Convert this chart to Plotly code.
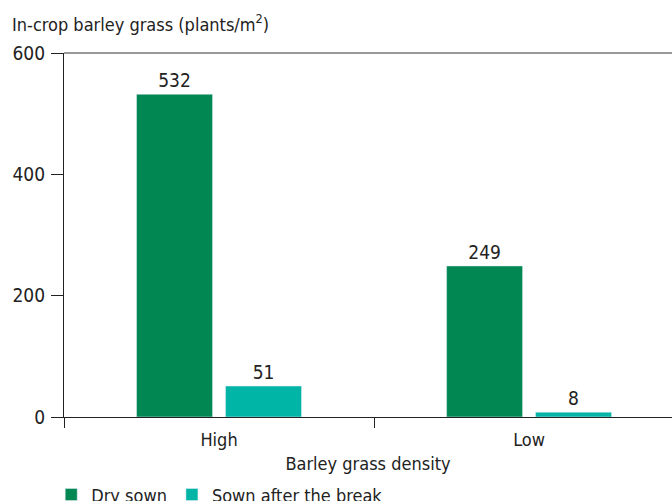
import plotly.graph_objects as go

categories = ["High", "Low"]
dry_sown = [532, 249]
sown_after_break = [51, 8]
y_ticks = [0, 200, 400, 600]

FONT = "DejaVu Sans Condensed, Liberation Sans Narrow, sans-serif"
DARK = "#008752"
TEAL = "#00B5A6"
TXT = "#222222"

fig = go.Figure()
fig.add_trace(go.Bar(
    x=categories, y=dry_sown, name="Dry sown", marker_color=DARK,
    text=dry_sown, textposition="outside", cliponaxis=False,
    textfont=dict(size=19, color=TXT),
))
fig.add_trace(go.Bar(
    x=categories, y=sown_after_break, name="Sown after the break", marker_color=TEAL,
    text=sown_after_break, textposition="outside", cliponaxis=False,
    textfont=dict(size=19, color=TXT),
))

fig.update_layout(
    width=672, height=501,
    margin=dict(l=64, r=0, t=53, b=84, autoexpand=False),
    paper_bgcolor="white", plot_bgcolor="white",
    font=dict(family=FONT, size=18, color=TXT),
    barmode="group", bargap=0.426, bargroupgap=0.146,
    showlegend=True,
    legend=dict(orientation="h", x=-0.021, xanchor="left", y=-0.163, yanchor="top",
                font=dict(size=18), traceorder="normal",
                bgcolor="rgba(0,0,0,0)"),
)
fig.update_xaxes(
    range=[-0.5, 1.461], showline=True, linecolor=TXT, linewidth=1.2,
    ticks="outside", tickson="boundaries", ticklen=10, tickcolor=TXT,
    ticklabelstandoff=6, automargin=False,
    showgrid=False, zeroline=False,
    title=dict(text="Barley grass density", standoff=8, font=dict(size=18)),
)
fig.update_yaxes(
    range=[0, 600], tickvals=y_ticks, showline=True, linecolor=TXT, linewidth=1.2,
    ticks="outside", ticklen=12, tickcolor=TXT, showgrid=False, zeroline=False,
    ticklabelstandoff=2, automargin=False,
    tickfont=dict(size=19),
)
fig.add_shape(type="line", xref="paper", yref="paper", x0=0, x1=1, y0=1, y1=1,
              line=dict(color="#777", width=1.5))
fig.add_annotation(text="In-crop barley grass (plants/m<sup>2</sup>)",
                   xref="paper", yref="paper", x=-0.089, y=1.045, xanchor="left", yanchor="bottom",
                   showarrow=False, font=dict(size=18, color=TXT))

fig.write_html("out.html", config={"displayModeBar": False},
               post_script="document.body.style.margin='0px';")
